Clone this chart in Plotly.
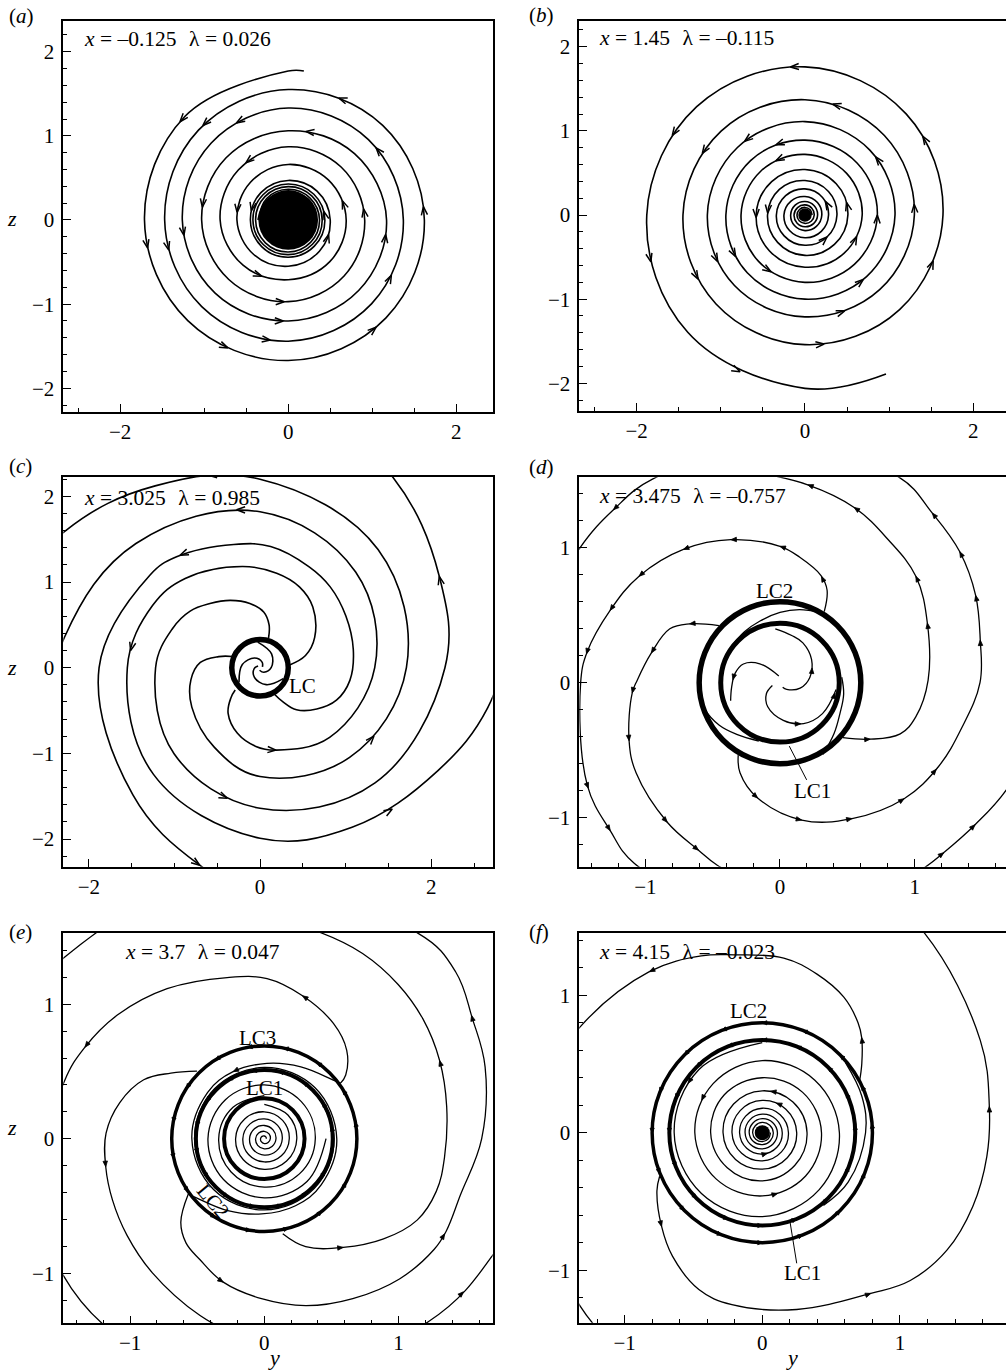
import numpy as np
import plotly.graph_objects as go

W, H = 1006, 1372
SERIF = "Liberation Serif"

# ---------------- (a)  x = -0.125 : a single spiral winding into the focus ----------------
A_TH = [84] + list(range(90, 3421, 45))
A_R = [1.78,
       1.77, 1.74, 1.71, 1.69, 1.67, 1.645, 1.62,
       1.59, 1.55, 1.51, 1.47, 1.455, 1.44, 1.405, 1.37,
       1.35, 1.33, 1.295, 1.26, 1.23, 1.20, 1.185, 1.17,
       1.115, 1.06, 1.045, 1.03, 1.00, 0.97, 0.94, 0.91,
       0.89, 0.87, 0.84, 0.81, 0.76, 0.71, 0.70, 0.69,
       0.675, 0.66, 0.635, 0.61, 0.58, 0.55, 0.525, 0.50,
       0.485, 0.47, 0.46, 0.45,
       0.447, 0.443, 0.44, 0.436, 0.432, 0.428, 0.424, 0.42, 0.416, 0.412, 0.408, 0.404,
       0.40, 0.396, 0.392, 0.388, 0.384, 0.38, 0.376, 0.372, 0.368, 0.365, 0.362, 0.36]
A_CORE = 0.355
A_ARR_Y = [-1.27, -1.05, -0.60, 0.62, 0.22, -0.50, 1.03, 0.65, 0.88, 1.59, 0.44, 0.52, 1.16, 1.23,
           1.01, -0.04, -0.04, -0.22, -0.69, -0.32, -1.26, -1.46, -1.69, -1.02, -0.62, -0.48]
A_ARR_Z = [1.19, 1.11, 1.15, 1.44, 1.06, 0.67, 0.85, 0.24, 0.12, 0.16, 0.10, -0.18, -0.16, -0.65,
           -1.29, -0.97, -1.20, -1.43, -1.53, -0.69, -0.20, -0.40, -0.30, 0.16, 0.08, 0.12]

# ---------------- (b)  x = 1.45 : a single spiral unwinding from the focus ----------------
B_TH = list(range(-1080, 3151, 45)) + [3177]
B_R = [0.085, 0.087, 0.09, 0.092, 0.095, 0.097, 0.10, 0.105, 0.11, 0.115, 0.12, 0.125,
       0.13, 0.135, 0.14, 0.145, 0.15, 0.155, 0.16, 0.165, 0.17, 0.177, 0.185, 0.192,
       0.20, 0.21, 0.22, 0.235, 0.25, 0.26, 0.27, 0.275,
       0.28, 0.295, 0.31, 0.325, 0.34, 0.35, 0.36, 0.37,
       0.38, 0.395, 0.41, 0.43, 0.445, 0.46, 0.48, 0.495,
       0.51, 0.525, 0.54, 0.56, 0.58, 0.60, 0.62, 0.65,
       0.68, 0.70, 0.72, 0.74, 0.76, 0.78, 0.80, 0.83,
       0.86, 0.875, 0.89, 0.915, 0.94, 0.97, 1.00, 1.035,
       1.07, 1.09, 1.11, 1.135, 1.16, 1.185, 1.21, 1.255,
       1.30, 1.335, 1.37, 1.41, 1.45, 1.495, 1.54, 1.59,
       1.64, 1.70, 1.76, 1.82, 1.88, 1.97, 2.06,
       2.12]
B_CORE = 0.08
B_ARR_Y = [-0.14, 0.34, -0.71, -0.34, -0.36, -1.58, -1.25, 1.39, 0.85, 1.31, 0.87, 0.53, 0.28,
           -0.59, -0.46, -1.82, -1.27, -1.05, -0.83, -0.40, 0.28, 0.61, 0.67, 0.46, 0.20, 1.52, -0.79]
B_ARR_Z = [1.76, 1.35, 0.89, 0.86, 0.65, 0.93, 0.73, 0.97, 0.69, 0.14, 0.02, 0.16, 0.18,
           -0.02, 0.02, -0.57, -0.79, -0.59, -0.50, -0.67, -0.28, -0.24, -0.77, -1.17, -1.54, -0.57, -1.82]

# ---------------- (c)  x = 3.025 : limit cycle LC with five outer arms ----------------
C_LC = 0.33
C2_TH = [5, 15, 29, 49, 64, 80, 100, 130, 150, 180, 225, 270, 300, 330, 350, 370]
C2_R = [0.34, 0.55, 0.73, 0.94, 1.05, 1.12, 1.20, 1.36, 1.45, 1.55, 1.76, 1.99, 2.15, 2.40, 2.70, 3.00]
C3_TH = [74, 78, 86, 99, 114, 128, 141, 156, 180, 225, 270, 315, 360, 387, 415, 440]
C3_R = [0.36, 0.51, 0.65, 0.76, 0.86, 0.95, 1.05, 1.12, 1.22, 1.42, 1.64, 1.90, 2.16, 2.35, 2.71, 3.10]
C4_TH = [158, 165, 175, 190, 210, 240, 270, 315, 360, 405, 450, 480, 505, 530]
C4_R = [0.35, 0.50, 0.70, 0.82, 0.92, 1.07, 1.27, 1.48, 1.71, 1.95, 2.20, 2.45, 2.78, 3.20]
C5_TH = [222, 226, 235, 251, 267, 281, 315, 360, 405, 450, 495, 531, 560]
C5_R = [0.39, 0.49, 0.65, 0.81, 0.92, 0.98, 1.15, 1.34, 1.58, 1.82, 2.05, 2.31, 2.70]
C6_TH = [-62, -56, -49, -36, -23, -8, 11, 31, 49, 64, 85, 102, 127, 140, 180, 225, 253, 275]
C6_R = [0.34, 0.48, 0.65, 0.82, 0.97, 1.06, 1.11, 1.17, 1.25, 1.31, 1.42, 1.47, 1.62, 1.68, 1.88, 2.10, 2.41, 2.80]
CI1_TH = [20, 70, 120, 170, 215]
CI2_TH = [140, 190, 240, 290, 335]
CI3_TH = [260, 310, 360, 410, 455]
CI_R = [0.03, 0.07, 0.13, 0.21, 0.30]
C_ARR_Y = [-0.60, -0.27, -0.95, -1.48, 0.19, -0.39, 1.29, 1.52, 2.10, -0.70]
C_ARR_Z = [2.19, 1.81, 1.30, 0.17, -0.95, -1.49, -0.73, -1.66, 1.06, -2.30]

# ---------------- (d)  x = 3.475 : two limit cycles LC1, LC2 ----------------
D_LC1, D_LC2 = 0.44, 0.60
D1_TH = [58, 63, 69, 81, 90, 109, 126, 143, 157, 171, 180, 208, 221, 231, 260, 290, 308, 314, 324, 335, 350]
D1_R = [0.62, 0.77, 0.85, 0.94, 1.01, 1.12, 1.22, 1.31, 1.37, 1.45, 1.48, 1.62, 1.67, 1.72, 1.74, 1.74,
        1.74, 1.75, 1.79, 1.86, 1.95]
D2_TH = [240, 246, 259, 279, 298, 317, 332, 346, 360, 372, 384, 396, 408, 420, 450, 482, 494, 506, 530]
D2_R = [0.62, 0.73, 0.87, 1.03, 1.14, 1.26, 1.33, 1.39, 1.485, 1.52, 1.59, 1.65, 1.69, 1.76, 1.77, 1.78,
        1.78, 1.79, 1.90]
D4_TH = [137, 147, 154, 167, 179, 184, 201, 212, 231, 244, 251, 265]
D4_R = [0.62, 0.80, 0.91, 0.98, 1.06, 1.10, 1.20, 1.26, 1.33, 1.38, 1.43, 1.52]
D5_TH = [319, 328, 337, 346, 361, 382, 398, 413, 427, 442, 460]
D5_R = [0.62, 0.79, 0.97, 1.04, 1.10, 1.18, 1.28, 1.33, 1.41, 1.48, 1.60]
DA1_TH = [60, 75, 90, 108, 125, 145]
DA1_R = [0.60, 0.56, 0.52, 0.48, 0.46, 0.45]
DA2_TH = [301, 317, 333, 350, 365]
DA2_R = [0.62, 0.55, 0.50, 0.48, 0.46]
DA3_TH = [185, 200, 215, 230, 250]
DA3_R = [0.60, 0.59, 0.55, 0.50, 0.46]
DI1_TH = [-60, -45, -15, 10, 36, 60, 76, 95]
DI1_R = [0.04, 0.07, 0.155, 0.225, 0.29, 0.34, 0.36, 0.40]
DI2_TH = [100, 137, 153, 168, 185, 200]
DI2_R = [0.05, 0.205, 0.305, 0.34, 0.36, 0.39]
DI3_TH = [200, 219, 243, 275, 300, 324, 353]
DI3_R = [0.06, 0.13, 0.20, 0.28, 0.35, 0.39, 0.42]
D_ARR_Y = [-0.173, 0.161, 0.544, 0.915, 1.162, 1.483, 1.446, 1.328, 1.137, 0.297, 0.0, -0.371, -0.717,
           -1.038, -1.261, -1.429, -1.421, -1.261, -0.667, -0.952, -1.100, -1.125, -0.841, -0.581,
           0.667, 1.100, 1.014, 0.544, 0.210, -1.211, 1.211, 1.434, 0.25, -0.35, 0.15, 0.40]
D_ARR_Z = [-0.857, -1.017, -1.005, -0.857, -0.635, 0.316, 0.649, 0.970, 1.254, 0.785, 1.007, 1.057, 0.983,
           0.785, 0.538, 0.217, -0.770, -1.091, 0.440, 0.217, -0.079, -0.425, -1.042, -1.190,
           -0.425, 0.440, 0.785, 1.304, 1.464, 1.242, -1.240, -1.042, 0.11, 0.02, -0.30, -0.08]

# ---------------- (e)  x = 3.7 : three limit cycles LC1, LC2, LC3 ----------------
E_LC1, E_LC2, E_LC3 = 0.30, 0.51, 0.69
E_IN_TH = list(range(0, 1891, 45))
E_IN_R = [0.015, 0.0175, 0.02, 0.024, 0.028, 0.032, 0.036, 0.04, 0.045, 0.05, 0.055, 0.06,
          0.065, 0.07, 0.076, 0.081, 0.087, 0.092, 0.098, 0.104, 0.11, 0.116, 0.122, 0.128,
          0.134, 0.14, 0.147, 0.153, 0.16, 0.166, 0.173, 0.18, 0.186, 0.193, 0.20, 0.207,
          0.214, 0.221, 0.228, 0.235, 0.242, 0.249, 0.256]
EA1_TH = list(range(90, 721, 45))
EA1_R = [0.32, 0.33, 0.34, 0.35, 0.36, 0.37, 0.38, 0.39, 0.40, 0.41, 0.42, 0.43, 0.44, 0.45, 0.46]
E1O_TH = [36, 38, 47, 59, 75, 89, 103, 123, 140, 153, 164, 190, 214, 240, 270, 312, 333, 350]
E1O_R = [0.70, 0.77, 0.90, 1.00, 1.10, 1.19, 1.23, 1.33, 1.43, 1.50, 1.55, 1.70, 1.81, 1.83, 1.83, 1.83, 1.91, 2.00]
E1I_TH = [36, 41, 63, 88, 115, 141, 180, 225, 270, 315, 360, 405]
E1I_R = [0.70, 0.67, 0.60, 0.56, 0.55, 0.545, 0.54, 0.535, 0.53, 0.525, 0.52, 0.52]
E2O_TH = [216, 225, 233, 242, 254, 269, 284, 299, 314, 327, 333, 344, 360, 378, 390, 401, 413, 460, 498, 520]
E2O_R = [0.70, 0.88, 0.97, 1.02, 1.11, 1.19, 1.28, 1.36, 1.45, 1.51, 1.52, 1.52, 1.62, 1.73, 1.79, 1.89,
         1.91, 1.95, 2.01, 2.10]
E2I_TH = [216, 221, 243, 268, 295, 321, 360, 405, 450, 495, 540, 585]
E2I_R = [0.70, 0.67, 0.60, 0.56, 0.55, 0.545, 0.54, 0.535, 0.53, 0.525, 0.52, 0.52]
E3_TH = [135, 145, 154, 166, 178, 190, 202, 215, 230, 250, 265]
E3_R = [0.71, 0.85, 1.00, 1.11, 1.18, 1.20, 1.22, 1.25, 1.30, 1.40, 1.50]
E4_TH = [281, 291, 306, 320, 332, 343, 354, 370, 384, 397, 409, 422, 435, 450]
E4_R = [0.72, 0.86, 1.00, 1.16, 1.29, 1.34, 1.35, 1.38, 1.43, 1.48, 1.52, 1.56, 1.59, 1.65]
E_ARR_Y = [-1.337, 0.291, -1.180, -0.311, 0.589, 1.309, 1.545, 1.347, 1.483, -0.231]
E_ARR_Z = [0.672, 1.056, -0.208, -1.063, -0.815, 0.585, 0.907, -0.704, -1.138, 0.498]
E_RING_ARR = [10, 32, 55, 78, 100, 122, 147, 170, 192, 215, 238, 262, 285, 308, 332]

# ---------------- (f)  x = 4.15 : two limit cycles LC1, LC2 around a focus ----------------
F_LC1, F_LC2 = 0.675, 0.80
F_IN_TH = list(range(90, 3241, 45))
F_IN_R = [0.655, 0.65, 0.64, 0.625, 0.61, 0.585, 0.56, 0.54, 0.525, 0.505, 0.49, 0.475, 0.46, 0.445,
          0.43, 0.415, 0.40, 0.39, 0.375, 0.36, 0.35, 0.335, 0.325, 0.315, 0.305, 0.295, 0.285,
          0.275, 0.265, 0.257, 0.25, 0.242, 0.235, 0.227, 0.22, 0.212, 0.205, 0.197, 0.19,
          0.184, 0.178, 0.171, 0.165, 0.16, 0.155, 0.15, 0.145, 0.14, 0.135, 0.13, 0.125,
          0.121, 0.117, 0.113, 0.11, 0.106, 0.102, 0.098, 0.095, 0.091, 0.087, 0.083, 0.08,
          0.077, 0.075, 0.072, 0.07, 0.067, 0.065, 0.062, 0.06]
F_CORE = 0.055
F1_TH = [203, 209, 223, 234, 248, 260, 281, 304, 315, 327.5, 340.6, 354, 366.6, 383, 411, 430]
F1_R = [0.81, 0.875, 1.00, 1.11, 1.23, 1.27, 1.31, 1.41, 1.52, 1.59, 1.62, 1.64, 1.66, 1.72, 1.87, 2.00]
F2_TH = [28, 34.8, 43.8, 49, 59, 71, 83, 99, 109, 125, 149.7, 165, 190, 224, 240]
F2_R = [0.80, 0.88, 1.00, 1.06, 1.15, 1.22, 1.28, 1.31, 1.36, 1.43, 1.53, 1.60, 1.70, 1.83, 1.90]
F3_TH = [-50, -30, 0, 20, 40]
F3_R = [0.69, 0.72, 0.75, 0.77, 0.79]
F_ARR_Y = [-0.816, 0.722, 1.654, 0.782, -0.731, 0.056, 0.104, 0.044, 0.092, -0.429, -0.550]
F_ARR_Z = [1.171, 0.686, 0.189, -1.173, -0.684, 0.286, 0.213, -0.162, -0.393, 0.238, 0.359]
F_RING_ARR = [5, 25, 45, 68, 90, 112, 135, 158, 180, 202, 225, 248, 270, 292, 315, 338]

# ---------------- labels ----------------
PANEL_TAGS = ['a', 'b', 'c', 'd', 'e', 'f']
GAP = '\u00a0\u00a0\u200a'
PARAM_TEXT = ['<i>x</i> = –0.125' + GAP + 'λ = 0.026',
              '<i>x</i> = 1.45' + GAP + 'λ = –0.115',
              '<i>x</i> = 3.025' + GAP + 'λ = 0.985',
              '<i>x</i> = 3.475' + GAP + 'λ = –0.757',
              '<i>x</i> = 3.7' + GAP + 'λ = 0.047',
              '<i>x</i> = 4.15' + GAP + 'λ = –0.023']

# ---------------- frame geometry (pixels) and axis ranges ----------------
PANELS = {
    'a': dict(box=(63.3, 21.3, 492.7, 411.7), xr=(-2.676, 2.433), yr=(-2.278, 2.361), xd=2, xm=0.5, right=True),
    'b': dict(box=(579.3, 20.7, 1006.0, 411.0), xr=(-2.682, 2.389), yr=(-2.329, 2.309), xd=2, xm=0.5, right=False),
    'c': dict(box=(63.3, 476.7, 492.7, 866.7), xr=(-2.298, 2.718), yr=(-2.322, 2.229), xd=2, xm=0.5, right=True),
    'd': dict(box=(579.3, 477.3, 1006.0, 866.7), xr=(-1.490, 1.678), yr=(-1.363, 1.521), xd=1, xm=0.2, right=False),
    'e': dict(box=(63.3, 932.7, 492.7, 1323.3), xr=(-1.498, 1.702), yr=(-1.373, 1.532), xd=1, xm=0.2, right=True),
    'f': dict(box=(579.3, 932.7, 1006.0, 1322.7), xr=(-1.329, 1.770), yr=(-1.382, 1.455), xd=1, xm=0.2, right=False),
}
PARAM_POS = {'a': (81.7, 39.3), 'b': (596.7, 38.3), 'c': (81.7, 498.3),
             'd': (596.7, 496.0), 'e': (123.3, 951.7), 'f': (596.7, 951.7)}
TAG_POS = {'a': (7, 16), 'b': (527, 15), 'c': (7, 466), 'd': (527, 467), 'e': (7, 932), 'f': (527, 932)}


def px_x(v):
    return v / W


def px_y(v):
    return 1 - v / H


def scales(p):
    l, t, r, b = PANELS[p]['box']
    xr, yr = PANELS[p]['xr'], PANELS[p]['yr']
    return (r - l) / (xr[1] - xr[0]), (b - t) / (yr[1] - yr[0])


def polar(th, r):
    t = np.radians(np.asarray(th, float))
    r = np.asarray(r, float)
    return r * np.cos(t), r * np.sin(t)


def along(th, r, n=16):
    """Fine polar sampling of a streamline, used only to seat arrowheads on it."""
    th = np.asarray(th, float)
    r = np.asarray(r, float)
    ts, rs = [th[:1]], [r[:1]]
    s = np.linspace(0, 1, n + 1)[1:]
    for i in range(len(th) - 1):
        ts.append(th[i] + (th[i + 1] - th[i]) * s)
        rs.append(r[i] + (r[i + 1] - r[i]) * s)
    return polar(np.concatenate(ts), np.concatenate(rs))


fig = go.Figure()
AX = {p: i + 1 for i, p in enumerate(PANEL_TAGS)}


def axref(p):
    i = AX[p]
    return ('x' if i == 1 else 'x%d' % i), ('y' if i == 1 else 'y%d' % i)


def add_lines(p, lines, width):
    xs, ys = [], []
    for th, r in lines:
        x, y = polar(th, r)
        xs += list(x) + [None]
        ys += list(y) + [None]
    xa, ya = axref(p)
    fig.add_trace(go.Scatter(x=xs, y=ys, mode='lines', xaxis=xa, yaxis=ya,
                             line=dict(color='black', width=width, shape='spline', smoothing=1.1),
                             hoverinfo='skip', showlegend=False))


def head(p, tip, d, length, half):
    sx, sy = scales(p)
    v = np.array([d[0] * sx, d[1] * sy])
    v = v / np.hypot(*v)
    pts = []
    for sg in (1, -1):
        a = np.radians(half) * sg
        rot = np.array([[np.cos(a), -np.sin(a)], [np.sin(a), np.cos(a)]])
        w = rot @ (-v) * length
        pts.append((tip[0] + w[0] / sx, tip[1] + w[1] / sy))
    return pts


def add_arrows(p, lines, ay, az, length, half, filled, width=1.3):
    sx, sy = scales(p)
    samples = [along(th, r) for th, r in lines]
    xs, ys = [], []
    for qy, qz in zip(ay, az):
        best = None
        for x, y in samples:
            d2 = ((x - qy) * sx) ** 2 + ((y - qz) * sy) ** 2
            k = int(np.argmin(d2))
            if best is None or d2[k] < best[0]:
                best = (d2[k], x, y, k)
        _, x, y, k = best
        k0, k1 = max(k - 1, 0), min(k + 1, len(x) - 1)
        d = (x[k1] - x[k0], y[k1] - y[k0])
        tip = (x[k], y[k])
        a1, a2 = head(p, tip, d, length, half)
        if filled:
            xs += [a1[0], tip[0], a2[0], a1[0], None]
            ys += [a1[1], tip[1], a2[1], a1[1], None]
        else:
            xs += [a1[0], tip[0], a2[0], None]
            ys += [a1[1], tip[1], a2[1], None]
    xa, ya = axref(p)
    if filled:
        fig.add_trace(go.Scatter(x=xs, y=ys, mode='lines', xaxis=xa, yaxis=ya, fill='toself',
                                 fillcolor='black', line=dict(color='black', width=0.8),
                                 hoverinfo='skip', showlegend=False))
    else:
        fig.add_trace(go.Scatter(x=xs, y=ys, mode='lines', xaxis=xa, yaxis=ya,
                                 line=dict(color='black', width=width),
                                 hoverinfo='skip', showlegend=False))


def ring_arrows(p, radius, angles, length, half):
    ay = [radius * np.cos(np.radians(a)) for a in angles]
    az = [radius * np.sin(np.radians(a)) for a in angles]
    ring = (list(range(0, 361, 15)), [radius] * 25)
    add_arrows(p, [ring], ay, az, length, half, True)


shapes = []


def ring(p, radius, width, fill=False):
    xa, ya = axref(p)
    shapes.append(dict(type='circle', xref=xa, yref=ya, x0=-radius, x1=radius, y0=-radius, y1=radius,
                       line=dict(color='black', width=width),
                       fillcolor='black' if fill else 'rgba(0,0,0,0)', layer='above'))


# ---- (a)
lines_a = [(A_TH, A_R)]
add_lines('a', lines_a, 1.6)
ring('a', A_CORE, 0, fill=True)
add_arrows('a', lines_a, A_ARR_Y, A_ARR_Z, 9, 20, False, 1.5)

# ---- (b)
lines_b = [(B_TH, B_R)]
add_lines('b', lines_b, 1.6)
ring('b', B_CORE, 0, fill=True)
add_arrows('b', lines_b, B_ARR_Y, B_ARR_Z, 9, 20, False, 1.5)

# ---- (c)
lines_c = [(C2_TH, C2_R), (C3_TH, C3_R), (C4_TH, C4_R), (C5_TH, C5_R), (C6_TH, C6_R)]
inner_c = [(CI1_TH, CI_R), (CI2_TH, CI_R), (CI3_TH, CI_R)]
add_lines('c', lines_c + inner_c, 1.6)
ring('c', C_LC, 5.5)
add_arrows('c', lines_c, C_ARR_Y, C_ARR_Z, 9, 20, False, 1.5)

# ---- (d)
lines_d = [(D1_TH, D1_R), (D2_TH, D2_R), (D4_TH, D4_R), (D5_TH, D5_R),
           (DA1_TH, DA1_R), (DA2_TH, DA2_R), (DA3_TH, DA3_R),
           (DI1_TH, DI1_R), (DI2_TH, DI2_R), (DI3_TH, DI3_R)]
add_lines('d', lines_d, 1.3)
ring('d', D_LC1, 5)
ring('d', D_LC2, 5.5)
add_arrows('d', lines_d, D_ARR_Y, D_ARR_Z, 6, 22, True)

# ---- (e)
lines_e = [(E_IN_TH, E_IN_R), (EA1_TH, EA1_R), (E1O_TH, E1O_R), (E1I_TH, E1I_R),
           (E2O_TH, E2O_R), (E2I_TH, E2I_R), (E3_TH, E3_R), (E4_TH, E4_R)]
add_lines('e', lines_e, 1.3)
ring('e', E_LC1, 4)
ring('e', E_LC2, 4)
ring('e', E_LC3, 3.5)
add_arrows('e', lines_e, E_ARR_Y, E_ARR_Z, 6, 22, True)
ring_arrows('e', E_LC3, E_RING_ARR, 5, 25)
ring_arrows('e', E_LC2, E_RING_ARR, 5, 25)

# ---- (f)
lines_f = [(F_IN_TH, F_IN_R), (F1_TH, F1_R), (F2_TH, F2_R), (F3_TH, F3_R)]
add_lines('f', lines_f, 1.3)
ring('f', F_CORE, 0, fill=True)
ring('f', F_LC1, 4)
ring('f', F_LC2, 3.5)
add_arrows('f', lines_f, F_ARR_Y, F_ARR_Z, 6, 22, True)
ring_arrows('f', F_LC2, F_RING_ARR, 5, 25)
ring_arrows('f', F_LC1, F_RING_ARR, 5, 25)

# ---- leader lines for LC1 labels
D_LEAD_Y, D_LEAD_Z = [0.198, 0.069], [-0.72, -0.47]
F_LEAD_Y, F_LEAD_Z = [0.25, 0.20], [-0.95, -0.64]
for p, ly, lz in (('d', D_LEAD_Y, D_LEAD_Z), ('f', F_LEAD_Y, F_LEAD_Z)):
    xa, ya = axref(p)
    fig.add_trace(go.Scatter(x=ly, y=lz, mode='lines', xaxis=xa, yaxis=ya,
                             line=dict(color='black', width=1), hoverinfo='skip', showlegend=False))

# ---------------- axes ----------------
layout = dict(width=W, height=H, margin=dict(l=0, r=0, t=0, b=0),
              paper_bgcolor='white', plot_bgcolor='white', showlegend=False)
tickfont = dict(family=SERIF, size=21, color='black')
for p in PANEL_TAGS:
    i = AX[p]
    cfg = PANELS[p]
    l, t, r, b = cfg['box']
    xa = 'xaxis' if i == 1 else 'xaxis%d' % i
    ya = 'yaxis' if i == 1 else 'yaxis%d' % i
    xname, yname = axref(p)
    layout[xa] = dict(domain=[px_x(l), min(px_x(r), 1.0)], range=list(cfg['xr']), anchor=yname,
                      tick0=0, dtick=cfg['xd'], ticks='inside', ticklen=8, tickwidth=1, tickcolor='black',
                      minor=dict(ticks='inside', ticklen=4, tick0=0, dtick=cfg['xm'], tickcolor='black', tickwidth=1),
                      showline=True, linecolor='black', linewidth=1.5, mirror=True,
                      showgrid=False, zeroline=False, tickfont=tickfont, ticklabelstandoff=0, fixedrange=True)
    layout[ya] = dict(domain=[px_y(b), px_y(t)], range=list(cfg['yr']), anchor=xname,
                      tick0=0, dtick=1, ticks='inside', ticklen=8, tickwidth=1, tickcolor='black',
                      minor=dict(ticks='inside', ticklen=4, tick0=0, dtick=0.2, tickcolor='black', tickwidth=1),
                      showline=True, linecolor='black', linewidth=1.5, mirror=cfg['right'],
                      showgrid=False, zeroline=False, tickfont=tickfont, ticklabelstandoff=3, fixedrange=True)

annotations = []
for k, p in enumerate(PANEL_TAGS):
    tx, ty = TAG_POS[p]
    annotations.append(dict(x=px_x(tx), y=px_y(ty), xref='paper', yref='paper', xanchor='left', yanchor='middle',
                            text='(<i>%s</i>)' % p, showarrow=False, font=dict(family=SERIF, size=21, color='black')))
    qx, qy = PARAM_POS[p]
    annotations.append(dict(x=px_x(qx), y=px_y(qy), xref='paper', yref='paper', xanchor='left', yanchor='middle',
                            text=PARAM_TEXT[k], showarrow=False, font=dict(family=SERIF, size=21.5, color='black')))

for zx, zy in ((12, 218), (12, 667), (12, 1127)):
    annotations.append(dict(x=px_x(zx), y=px_y(zy), xref='paper', yref='paper', xanchor='center', yanchor='middle',
                            text='<i>z</i>', showarrow=False, font=dict(family=SERIF, size=22, color='black')))
for yx in (274, 791.7):
    annotations.append(dict(x=px_x(yx), y=px_y(1371), xref='paper', yref='paper', xanchor='center', yanchor='bottom',
                            text='<i>y</i>', showarrow=False, borderpad=0,
                            font=dict(family=SERIF, size=22, color='black')))

# limit-cycle labels, placed in data coordinates
LC_LABELS = [('c', 'LC', 0.50, -0.21, 0), ('d', 'LC2', -0.04, 0.68, 0), ('d', 'LC1', 0.24, -0.80, 0),
             ('e', 'LC3', -0.05, 0.75, 0), ('e', 'LC1', 0.0, 0.38, 0), ('e', 'LC2', -0.38, -0.46, 50),
             ('f', 'LC2', -0.10, 0.885, 0), ('f', 'LC1', 0.29, -1.02, 0)]
for p, txt, lx, lz, ang in LC_LABELS:
    xa, ya = axref(p)
    annotations.append(dict(x=lx, y=lz, xref=xa, yref=ya, text=txt, showarrow=False, textangle=ang,
                            font=dict(family=SERIF, size=21, color='black'), bgcolor='rgba(0,0,0,0)'))

layout['annotations'] = annotations
layout['shapes'] = shapes
fig.update_layout(**layout)
fig.write_html("out.html")
